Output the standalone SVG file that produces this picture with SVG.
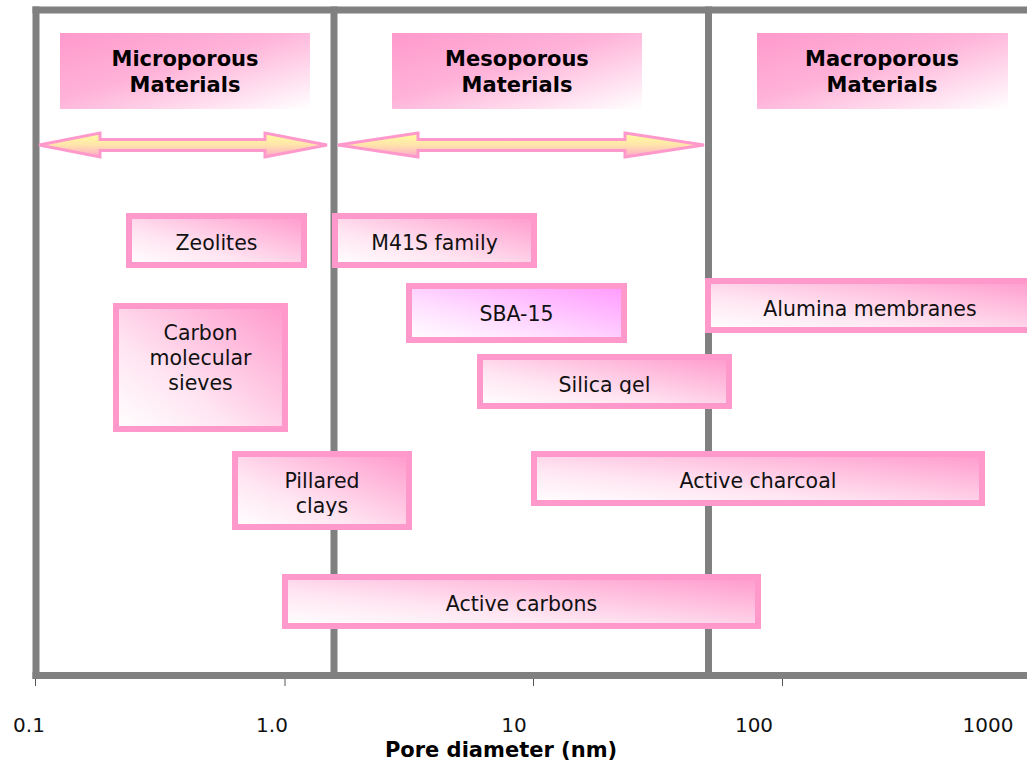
<svg xmlns="http://www.w3.org/2000/svg" width="1027" height="762" viewBox="0 0 1027 762">
  <defs>
    <linearGradient id="hdr" x1="0" y1="0" x2="1" y2="1">
      <stop offset="0" stop-color="#ff99cc"/>
      <stop offset="0.45" stop-color="#ffb3d9"/>
      <stop offset="1" stop-color="#ffffff"/>
    </linearGradient>
    <linearGradient id="box" x1="0" y1="1" x2="1" y2="0">
      <stop offset="0" stop-color="#ffffff"/>
      <stop offset="0.35" stop-color="#ffe6f2"/>
      <stop offset="1" stop-color="#ff99cc"/>
    </linearGradient>
    <linearGradient id="sba" x1="0" y1="1" x2="1" y2="0">
      <stop offset="0" stop-color="#ffffff"/>
      <stop offset="0.35" stop-color="#ffe0ff"/>
      <stop offset="1" stop-color="#ff99ff"/>
    </linearGradient>
    <linearGradient id="arr" x1="0" y1="0" x2="0" y2="1">
      <stop offset="0" stop-color="#ffffa0"/>
      <stop offset="0.5" stop-color="#ffe4aa"/>
      <stop offset="1" stop-color="#ffa6cc"/>
    </linearGradient>
    <clipPath id="clipSilica"><rect x="470" y="340" width="270" height="54"/></clipPath>
    <clipPath id="clipClays"><rect x="225" y="440" width="200" height="76"/></clipPath>
  </defs>
  <style>
    .frame { stroke: #808080; stroke-width: 7; fill: none; }
    .tick { stroke: #555555; stroke-width: 1; }
    .hdr { fill: url(#hdr); }
    .hdrt { font-family: "DejaVu Sans", Verdana, sans-serif; font-size: 21px; font-weight: bold; fill: #000; text-anchor: middle; }
    .arrow { fill: url(#arr); stroke: #ff99cc; stroke-width: 3; stroke-linejoin: miter; }
    .mat { fill: url(#box); stroke: #ff99cc; stroke-width: 6; }
    .matt { font-family: "DejaVu Sans", Verdana, sans-serif; font-size: 20.5px; fill: #111; text-anchor: middle; }
    .axt { font-family: "DejaVu Sans", Verdana, sans-serif; font-size: 20px; fill: #111; text-anchor: middle; }
    .axtitle { font-family: "DejaVu Sans", Verdana, sans-serif; font-size: 21px; font-weight: bold; fill: #000; text-anchor: middle; }
  </style>
  <rect width="1027" height="762" fill="#ffffff"/>

  <g id="frame">
    <line class="frame" x1="32.5" y1="10" x2="1027" y2="10"/>
    <line class="frame" x1="32.5" y1="675.5" x2="1027" y2="675.5"/>
    <line class="frame" x1="36" y1="6.5" x2="36" y2="679"/>
    <line class="frame" x1="334" y1="6.5" x2="334" y2="679"/>
    <line class="frame" x1="708.5" y1="6.5" x2="708.5" y2="679"/>
  </g>

  <g id="axis">
    <line class="tick" x1="35.5" y1="679" x2="35.5" y2="686"/>
    <line class="tick" x1="285" y1="679" x2="285" y2="686"/>
    <line class="tick" x1="533.5" y1="679" x2="533.5" y2="686"/>
    <line class="tick" x1="782.5" y1="679" x2="782.5" y2="686"/>
    <text class="axt" x="29" y="732">0.1</text>
    <text class="axt" x="272" y="732">1.0</text>
    <text class="axt" x="514" y="732">10</text>
    <text class="axt" x="754" y="732">100</text>
    <text class="axt" x="988" y="732">1000</text>
    <text class="axtitle" x="501" y="757">Pore diameter (nm)</text>
  </g>

  <g id="hdr-micro">
    <rect class="hdr" x="60" y="33" width="250" height="76"/>
    <text class="hdrt" x="185" y="66">Microporous</text>
    <text class="hdrt" x="185" y="92">Materials</text>
  </g>
  <g id="hdr-meso">
    <rect class="hdr" x="392" y="33" width="250" height="76"/>
    <text class="hdrt" x="517" y="66">Mesoporous</text>
    <text class="hdrt" x="517" y="92">Materials</text>
  </g>
  <g id="hdr-macro">
    <rect class="hdr" x="757" y="33" width="251" height="76"/>
    <text class="hdrt" x="882" y="66">Macroporous</text>
    <text class="hdrt" x="882" y="92">Materials</text>
  </g>

  <g id="connectors">
    <polygon class="arrow" points="39,145 100,133 100,139.5 265,139.5 265,133 327,145 265,157 265,150.5 100,150.5 100,157"/>
    <polygon class="arrow" points="338,145 418,133 418,139.5 625,139.5 625,133 704,145 625,157 625,150.5 418,150.5 418,157"/>
  </g>

  <g id="zeolites">
    <rect class="mat" x="129" y="216" width="175" height="49"/>
    <text class="matt" x="216.5" y="250">Zeolites</text>
  </g>
  <g id="carbon-sieves">
    <rect class="mat" x="116" y="306" width="169" height="123"/>
    <text class="matt" x="200.5" y="340">Carbon</text>
    <text class="matt" x="200.5" y="365">molecular</text>
    <text class="matt" x="200.5" y="390">sieves</text>
  </g>
  <g id="m41s">
    <rect class="mat" x="335" y="216" width="199" height="49"/>
    <text class="matt" x="434.5" y="250">M41S family</text>
  </g>
  <g id="sba15">
    <rect class="mat" x="409" y="286" width="215" height="54" style="fill:url(#sba)"/>
    <text class="matt" x="516.5" y="321">SBA-15</text>
  </g>
  <g id="alumina">
    <rect class="mat" x="708" y="281" width="340" height="49"/>
    <text class="matt" x="870" y="316">Alumina membranes</text>
  </g>
  <g id="silica-gel">
    <rect class="mat" x="480" y="357" width="249" height="49"/>
    <text class="matt" x="604.5" y="392" clip-path="url(#clipSilica)">Silica gel</text>
  </g>
  <g id="pillared-clays">
    <rect class="mat" x="235" y="454" width="174" height="73"/>
    <text class="matt" x="322" y="488">Pillared</text>
    <text class="matt" x="322" y="513" clip-path="url(#clipClays)">clays</text>
  </g>
  <g id="active-charcoal">
    <rect class="mat" x="534" y="454" width="448" height="49"/>
    <text class="matt" x="758" y="488">Active charcoal</text>
  </g>
  <g id="active-carbons">
    <rect class="mat" x="285" y="577" width="473" height="49"/>
    <text class="matt" x="521.5" y="611">Active carbons</text>
  </g>
</svg>
